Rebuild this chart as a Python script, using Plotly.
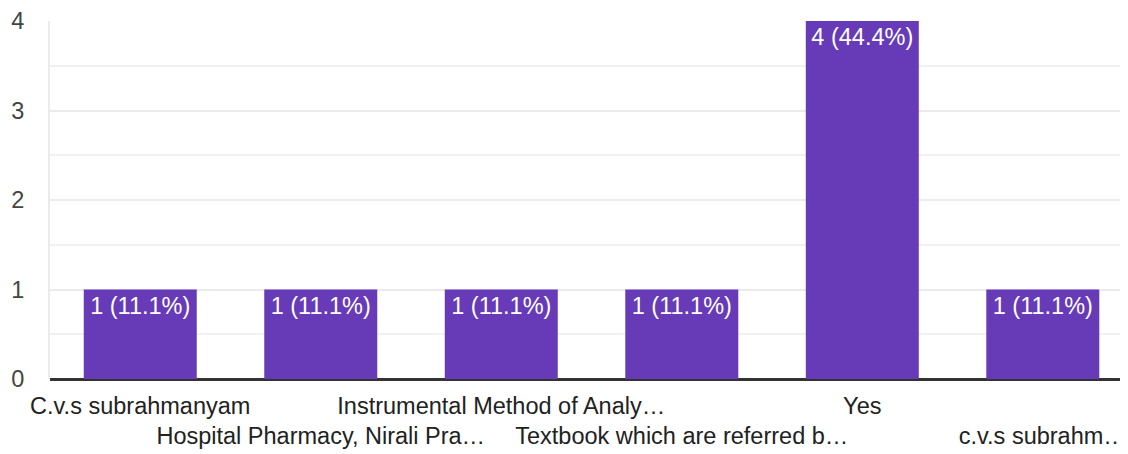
import plotly.graph_objects as go

categories = [
    "C.v.s subrahmanyam",
    "Hospital Pharmacy, Nirali Pra…",
    "Instrumental Method of Analy…",
    "Textbook which are referred b…",
    "Yes",
    "c.v.s subrahm…",
]
counts = [1, 1, 1, 1, 4, 1]
total = sum(counts)
bar_text = [f"{v} ({v / total * 100:.1f}%)" for v in counts]
tick_text = [c if i % 2 == 0 else "<br>" + c for i, c in enumerate(categories)]
y_ticks = [0, 1, 2, 3, 4]

FONT = "Liberation Sans, Arial, sans-serif"
FS = 23.5

fig = go.Figure(
    go.Bar(
        x=categories,
        y=counts,
        marker=dict(color="#673ab7", line=dict(width=0)),
        text=bar_text,
        textposition="inside",
        insidetextanchor="end",
        textangle=0,
        textfont=dict(family=FONT, size=FS, color="#ffffff"),
        hoverinfo="skip",
    )
)

fig.update_layout(
    width=1120,
    height=446,
    margin=dict(l=42, r=0, t=13, b=75),
    paper_bgcolor="white",
    plot_bgcolor="white",
    bargap=0.374,
    showlegend=False,
    font=dict(family=FONT, size=FS, color="#222222"),
    uniformtext=dict(mode=False),
)

fig.update_xaxes(
    range=[-0.5, 5.472],
    tickmode="array",
    tickvals=categories,
    ticktext=tick_text,
    tickangle=0,
    tickfont=dict(family=FONT, size=FS, color="#222222"),
    showgrid=False,
    showline=False,
    ticks="",
    ticklabelstandoff=10,
    automargin=False,
)

fig.update_yaxes(
    range=[0, 4],
    tickmode="array",
    tickvals=y_ticks,
    tickfont=dict(family=FONT, size=FS, color="#444444"),
    showgrid=True,
    gridcolor="#ebebeb",
    gridwidth=2,
    minor=dict(dtick=0.5, showgrid=True, gridcolor="#f1f1f1", gridwidth=2, tickmode="linear", tick0=0),
    zeroline=True,
    zerolinecolor="#333333",
    zerolinewidth=3,
    showline=True,
    linecolor="#ebebeb",
    linewidth=2,
    ticks="",
    ticklabelstandoff=19,
    automargin=False,
)

fig.write_html("out.html")
